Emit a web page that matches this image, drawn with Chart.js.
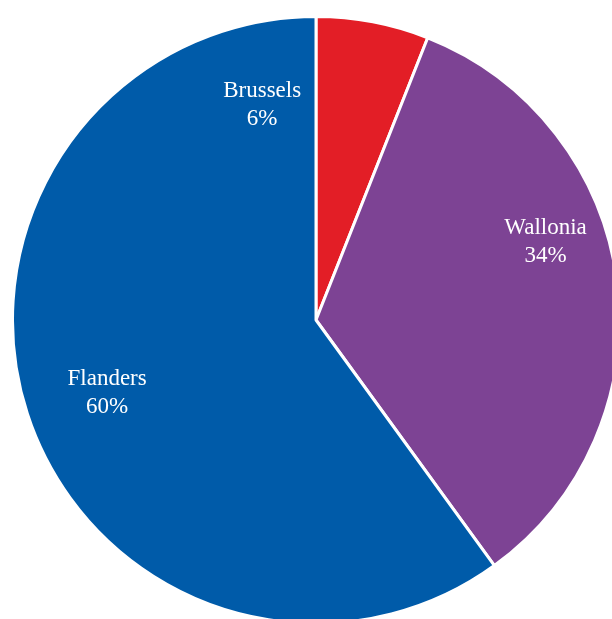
<!DOCTYPE html>
<html>
<head>
<meta charset="utf-8">
<script src="https://cdn.jsdelivr.net/npm/chart.js@4.4.0/dist/chart.umd.min.js"></script>
<style>
  html, body { margin: 0; padding: 0; background: #fff; overflow: hidden; width: 612px; height: 619px; }
  #wrap { position: absolute; left: 11px; top: 15px; width: 610px; height: 610px; }
</style>
</head>
<body>
<div id="wrap"><canvas id="pie" width="610" height="610"></canvas></div>
<script>
var regions = ["Brussels", "Wallonia", "Flanders"];
var shares = [6, 34, 60];
var colours = ["#E31E26", "#7D4394", "#005BA9"];

// where each label sits: angle clockwise from 12 o'clock, and fraction of the radius
var labelAngle = [-14, 71, 251];
var labelDist = [0.733, 0.80, 0.728];

var sliceLabels = {
    id: 'sliceLabels',
    afterDatasetsDraw: function(chart) {
        var ctx = chart.ctx;
        var meta = chart.getDatasetMeta(0);
        ctx.save();
        ctx.fillStyle = '#fff';
        ctx.font = '23px "Liberation Serif", "Times New Roman", serif';
        ctx.textAlign = 'center';
        ctx.textBaseline = 'middle';
        meta.data.forEach(function(arc, i) {
            var a = labelAngle[i] * Math.PI / 180;
            var r = arc.outerRadius * labelDist[i];
            var x = arc.x + Math.sin(a) * r;
            var y = arc.y - Math.cos(a) * r;
            ctx.fillText(regions[i], x, y - 13);
            ctx.fillText(shares[i] + '%', x, y + 15);
        });
        ctx.restore();
    }
};

var chart = new Chart(document.getElementById('pie'), {
    type: 'pie',
    data: {
        labels: regions,
        datasets: [{
            data: shares,
            backgroundColor: colours,
            borderColor: '#fff',
            borderWidth: 3
        }]
    },
    options: {
        responsive: false,
        animation: false,
        layout: { padding: 0 },
        plugins: {
            legend: { display: false },
            tooltip: { enabled: false }
        }
    },
    plugins: [sliceLabels]
});
</script>
</body>
</html>
